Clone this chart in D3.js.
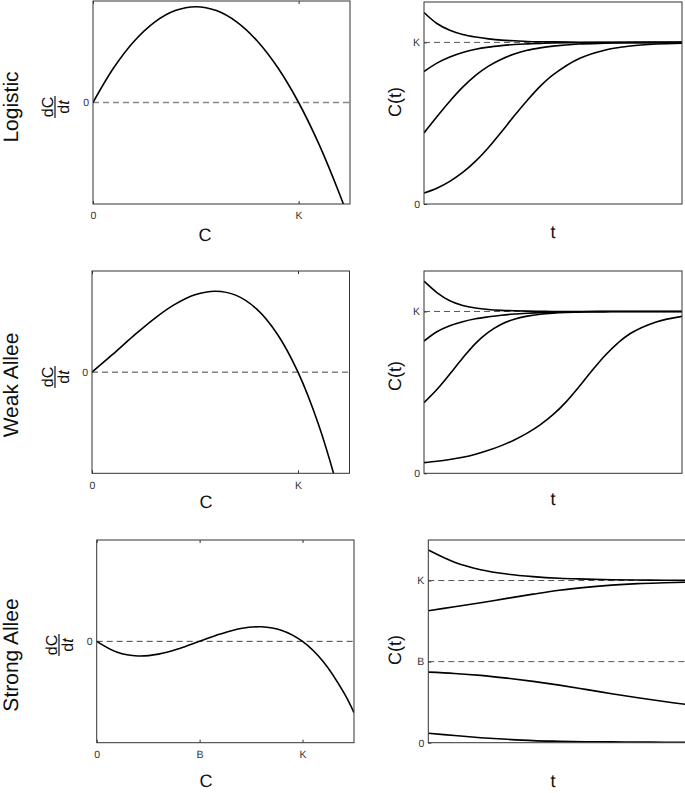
<!DOCTYPE html>
<html>
<head>
<meta charset="utf-8">
<script src="https://cdn.jsdelivr.net/npm/d3@7"></script>
<style>
body{margin:0;background:#fff;}
svg{display:block;font-family:"Liberation Sans",Arial,sans-serif;}
text{text-rendering:geometricPrecision;}
</style>
</head>
<body>
<svg id="fig" width="685" height="793"></svg>
<script>
// density grid for the growth-rate panels (in units of K)
var cGrid = [0,0.1,0.2,0.3,0.4,0.5,0.6,0.7,0.8,0.9,1.0,1.1,1.2,1.25];
var rateLogistic = [0,0.09,0.16,0.21,0.24,0.25,0.24,0.21,0.16,0.09,0,-0.11,-0.24,-0.3125];
var rateWeak     = [0,0.175,0.356,0.525,0.667,0.765,0.8,0.759,0.623,0.375,0,-0.52,-1.2,-1.61];
var rateStrong   = [0,-0.108,-0.144,-0.126,-0.072,0,0.072,0.126,0.144,0.108,0,-0.198,-0.504,-0.703];

// trajectories C(t), units of K
var tLogistic = [0,0.5,1,1.5,2,2.5,3,3.5,4,4.5,5,6,7,8,9,10];
var logistic1 = [1.185,1.117,1.075,1.049,1.033,1.022,1.014,1.010,1.006,1.004,1.003,1.001,1,1,1,1];
var logistic2 = [0.82,0.872,0.910,0.938,0.958,0.971,0.980,0.987,0.991,0.994,0.996,0.998,0.999,1,1,1];
var logistic3 = [0.44,0.540,0.636,0.723,0.796,0.853,0.896,0.928,0.951,0.966,0.977,0.990,0.995,0.998,0.999,1];
var logistic4 = [0.068,0.098,0.140,0.195,0.265,0.350,0.446,0.546,0.641,0.728,0.799,0.899,0.952,0.978,0.990,0.995];

var tWeak = [0,0.5,1,1.5,2,2.5,3,3.5,4,4.5,5,5.5,6,6.5,7,7.5,8,9,10];
var weak1 = [1.187,1.117,1.066,1.037,1.021,1.012,1.007,1.004,1.002,1.001,1,1,1,1,1,1,1,1,1];
var weak2 = [0.817,0.875,0.912,0.937,0.955,0.967,0.977,0.984,0.989,0.993,0.995,0.997,0.998,0.999,0.999,1,1,1,1];
var weak3 = [0.437,0.518,0.613,0.712,0.803,0.872,0.921,0.952,0.971,0.983,0.99,0.994,0.996,0.998,0.999,1,1,1,1];
var weak4 = [0.066,0.074,0.085,0.099,0.118,0.142,0.171,0.206,0.248,0.299,0.362,0.44,0.533,0.632,0.725,0.803,0.864,0.935,0.97];

var tStrong = [0,1,2,3,4,5,6,7,8,9,10];
var strong1 = [1.188,1.113,1.067,1.040,1.024,1.014,1.009,1.005,1.003,1.002,1.001];
var strong2 = [0.814,0.838,0.863,0.89,0.916,0.94,0.958,0.972,0.981,0.986,0.99];
var strong3 = [0.435,0.427,0.415,0.398,0.378,0.355,0.329,0.302,0.277,0.254,0.233];
var strong4 = [0.058,0.044,0.031,0.021,0.013,0.009,0.006,0.005,0.004,0.003,0.003];

// tick labels
var rowLabels = ["Logistic","Weak Allee","Strong Allee"];
var cTicksKV = [0,1], cTicksK = ["0","K"];
var cTicksBKV = [0,0.5,1], cTicksBK = ["0","B","K"];

var svg = d3.select("#fig");
var clipId = 0;

var rows = [
  {label:rowLabels[0], left:{x:93,y:1,w:257,h:203}, right:{x:424,y:2,w:258,h:202},
   rate:rateLogistic, yDom:[-0.265,0.265], ticksV:cTicksKV, ticks:cTicksK, zeroColor:"#888", zeroW:1.6,
   t:tLogistic, series:[logistic1,logistic2,logistic3,logistic4],
   lab:{rowY:107, fracX:55, fracY:107, cX:205, cY:241, tY:238, ctY:102}},
  {label:rowLabels[1], left:{x:92,y:271,w:257.5,h:202.3}, right:{x:424,y:271,w:258,h:202.3},
   rate:rateWeak, yDom:[-1,1], ticksV:cTicksKV, ticks:cTicksK, zeroColor:"#444", zeroW:1,
   t:tWeak, series:[weak1,weak2,weak3,weak4],
   lab:{rowY:385, fracX:55, fracY:377, cX:206, cY:508, tY:505, ctY:376}},
  {label:rowLabels[2], left:{x:96.7,y:540,w:257.3,h:202.7}, right:{x:428.3,y:540,w:262,h:202.7},
   rate:rateStrong, yDom:[-1,1], ticksV:cTicksBKV, ticks:cTicksBK, zeroColor:"#444", zeroW:1,
   t:tStrong, series:[strong1,strong2,strong3,strong4],
   lab:{rowY:655, fracX:59, fracY:645, cX:206, cY:787, tY:787, ctY:650}}
];

function addClip(b){
  var id = "clip" + (clipId++);
  svg.append("clipPath").attr("id", id).append("rect")
    .attr("x", 0).attr("y", 0).attr("width", b.w).attr("height", b.h);
  return "url(#" + id + ")";
}

function styleAxis(a){
  a.select(".domain").remove();
  a.selectAll("line").attr("stroke", "#333");
  a.selectAll("text").attr("fill", "#333").style("font-size", "10.5px")
    .style("font-family", "'Liberation Sans', Arial, sans-serif");
}

var smooth = d3.curveCatmullRom.alpha(0.5);

rows.forEach(function(r){
  // ---- left: growth rate dC/dt vs C
  var b = r.left;
  var g = svg.append("g").attr("transform", "translate(" + b.x + "," + b.y + ")");
  var x = d3.scaleLinear().domain([0,1.25]).range([0,b.w]);
  var y = d3.scaleLinear().domain(r.yDom).range([b.h,0]);

  var xb = g.append("g").attr("transform", "translate(0," + b.h + ")")
    .call(d3.axisBottom(x).tickValues(r.ticksV).tickSize(-3).tickPadding(8)
      .tickFormat(function(d,i){ return r.ticks[i]; }));
  styleAxis(xb);
  var xt = g.append("g").call(d3.axisTop(x).tickValues(r.ticksV).tickSize(-3).tickFormat(""));
  styleAxis(xt);
  var yl = g.append("g").call(d3.axisLeft(y).tickValues([0]).tickSize(0).tickPadding(4)
    .tickFormat(function(){ return "0"; }));
  styleAxis(yl);

  g.append("line").attr("x1", 0).attr("x2", b.w).attr("y1", y(0)).attr("y2", y(0))
    .attr("stroke", r.zeroColor).attr("stroke-width", r.zeroW).attr("stroke-dasharray", "6,4");

  var pts = cGrid.map(function(c,i){ return [c, r.rate[i]]; });
  g.append("path").datum(pts).attr("clip-path", addClip(b))
    .attr("fill", "none").attr("stroke", "#000").attr("stroke-width", 1.6)
    .attr("d", d3.line().x(function(d){ return x(d[0]); }).y(function(d){ return y(d[1]); })
      .curve(smooth));

  g.append("rect").attr("width", b.w).attr("height", b.h)
    .attr("fill", "none").attr("stroke", "#333").attr("stroke-width", 1);

  // ---- right: trajectories C(t)
  var rb = r.right;
  var h = svg.append("g").attr("transform", "translate(" + rb.x + "," + rb.y + ")");
  var tx = d3.scaleLinear().domain([0,10]).range([0, rb.w]);
  var cy = d3.scaleLinear().domain([0,1.25]).range([rb.h,0]);

  var ya = h.append("g").call(d3.axisLeft(cy).tickValues(r.ticksV).tickSize(-3).tickPadding(4)
    .tickFormat(function(d,i){ return r.ticks[i]; }));
  styleAxis(ya);

  r.ticksV.slice(1).forEach(function(v){
    h.append("line").attr("x1", 0).attr("x2", rb.w).attr("y1", cy(v)).attr("y2", cy(v))
      .attr("stroke", "#555").attr("stroke-width", 1).attr("stroke-dasharray", "6,4");
  });

  var clip = addClip(rb);
  r.series.forEach(function(s){
    var p = r.t.map(function(t,i){ return [t, s[i]]; });
    h.append("path").datum(p).attr("clip-path", clip)
      .attr("fill", "none").attr("stroke", "#000").attr("stroke-width", 1.6)
      .attr("d", d3.line().x(function(d){ return tx(d[0]); }).y(function(d){ return cy(d[1]); })
        .curve(smooth));
  });

  h.append("rect").attr("width", rb.w).attr("height", rb.h)
    .attr("fill", "none").attr("stroke", "#333").attr("stroke-width", 1);

  // ---- text
  var L = r.lab;
  svg.append("text").attr("transform", "translate(18," + L.rowY + ") rotate(-90)")
    .attr("text-anchor", "middle").style("font-size", "21px").attr("fill", "#111").text(r.label);

  var fr = svg.append("g").attr("transform", "translate(" + L.fracX + "," + L.fracY + ") rotate(-90)");
  fr.append("text").attr("x", 0).attr("y", -2).attr("text-anchor", "middle")
    .style("font-size", "16px").attr("fill", "#111").text("dC");
  fr.append("line").attr("x1", -11).attr("x2", 11).attr("y1", 0).attr("y2", 0)
    .attr("stroke", "#111").attr("stroke-width", 1.2);
  var den = fr.append("text").attr("x", 0).attr("y", 13.5).attr("text-anchor", "middle")
    .style("font-size", "16px").attr("fill", "#111");
  den.append("tspan").text("d");
  den.append("tspan").style("font-style", "italic").text("t");

  svg.append("text").attr("x", L.cX).attr("y", L.cY).attr("text-anchor", "middle")
    .style("font-size", "18px").attr("fill", "#111").text("C");
  svg.append("text").attr("x", 553).attr("y", L.tY).attr("text-anchor", "middle")
    .style("font-size", "18px").attr("fill", "#111").text("t");
  svg.append("text").attr("transform", "translate(401," + L.ctY + ") rotate(-90)")
    .attr("text-anchor", "middle").style("font-size", "18px").attr("fill", "#111").text("C(t)");
});
</script>
</body>
</html>
